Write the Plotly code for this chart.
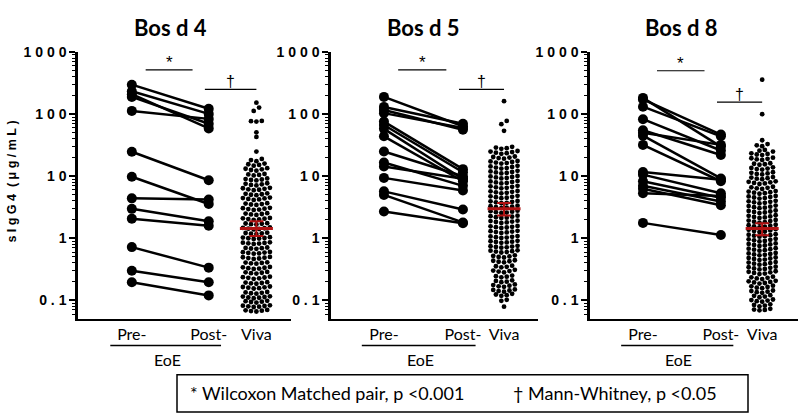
import numpy as np
import plotly.graph_objects as go

W, H = 800, 417

titles = ["Bos d 4", "Bos d 5", "Bos d 8"]
categories = ["Pre-", "Post-", "Viva"]

# ---- paired EoE values (ug/mL) ----
d4_pre = [299, 234, 210, 190, 113, 24.8, 9.8, 4.4, 2.98, 2.07, 0.72, 0.30, 0.195]
d4_post = [122, 101, 59, 70, 84, 8.6, 3.57, 4.2, 1.88, 1.59, 0.336, 0.195, 0.12]

d5_pre = [190, 131, 117, 104, 76, 67, 58, 44, 25, 16.6, 14.4, 9.4, 5.7, 5.0, 2.7]
d5_post = [64, 70, 56, 60, 13, 11.6, 9.0, 8.3, 10, 7.0, 9.1, 5.9, 2.9, 1.8, 1.75]

d8_pre = [183, 173, 132, 83, 55, 50, 45, 32, 11.7, 10.6, 8.3, 7.0, 6.3, 5.3, 1.77]
d8_post = [30, 47, 44, 26, 22, 32, 9.2, 8.3, 8.8, 5.3, 4.5, 3.9, 3.4, 4.8, 1.13]

# ---- Viva cohort values (ug/mL) ----
d4_viva = [
    0.066, 0.067, 0.068, 0.069, 0.07,
    0.078, 0.079, 0.08, 0.081, 0.082, 0.083,
    0.092, 0.094, 0.095, 0.097, 0.098,
    0.108, 0.11, 0.111, 0.113, 0.115, 0.116,
    0.128, 0.13, 0.132, 0.134, 0.136,
    0.155, 0.157, 0.16, 0.162, 0.164, 0.167,
    0.185, 0.188, 0.19, 0.193, 0.196,
    0.222, 0.226, 0.23, 0.233, 0.236, 0.24,
    0.27, 0.274, 0.278, 0.282, 0.287,
    0.32, 0.325, 0.33, 0.335, 0.34, 0.345,
    0.39, 0.395, 0.40, 0.405, 0.41,
    0.465, 0.472, 0.48, 0.487, 0.494, 0.50,
    0.565, 0.572, 0.58, 0.588, 0.596, 0.603,
    0.675, 0.684, 0.693, 0.70, 0.71,
    0.81, 0.82, 0.83, 0.84, 0.85, 0.86,
    0.975, 0.99, 1.0, 1.01, 1.025, 1.04,
    1.17, 1.185, 1.2, 1.215, 1.23,
    1.39, 1.41, 1.43, 1.45, 1.47, 1.49,
    1.67, 1.69, 1.71, 1.73, 1.75,
    1.98, 2.01, 2.04, 2.07, 2.1, 2.13,
    2.38, 2.42, 2.46, 2.5, 2.54,
    2.86, 2.9, 2.95, 3.0, 3.05, 3.1,
    3.45, 3.5, 3.56, 3.62, 3.68,
    4.15, 4.22, 4.3, 4.38, 4.45, 4.52,
    4.95, 5.03, 5.12, 5.2, 5.3,
    5.95, 6.05, 6.15, 6.27, 6.4, 6.5,
    7.1, 7.25, 7.4, 7.55, 7.7,
    8.55, 8.7, 8.85, 9.0, 9.2,
    10.3, 10.5, 10.7, 10.9,
    12.3, 12.6, 12.9, 13.2, 13.5,
    14.8, 15.2, 15.6, 16.0,
    17.5, 18.2, 19.0,
    25, 43, 51, 76, 77, 78, 113, 128, 153,
]

d5_viva = [
    0.079,
    0.098, 0.102,
    0.118, 0.121, 0.124, 0.127,
    0.138, 0.141, 0.144, 0.147, 0.15,
    0.165, 0.168, 0.172, 0.176, 0.18,
    0.196, 0.2, 0.205, 0.21,
    0.235, 0.24, 0.245, 0.25,
    0.283, 0.29, 0.296, 0.302, 0.31,
    0.34, 0.347, 0.354, 0.362,
    0.41, 0.418, 0.426, 0.434, 0.442,
    0.49, 0.5, 0.51, 0.52, 0.53,
    0.59, 0.6, 0.61, 0.62, 0.63, 0.64,
    0.705, 0.715, 0.725, 0.735, 0.745, 0.755,
    0.845, 0.857, 0.87, 0.882, 0.895, 0.908,
    1.01, 1.025, 1.04, 1.055, 1.07, 1.085,
    1.22, 1.24, 1.26, 1.28, 1.3, 1.32,
    1.47, 1.49, 1.51, 1.53, 1.56, 1.58,
    1.77, 1.8, 1.83, 1.86, 1.89, 1.92,
    2.12, 2.15, 2.19, 2.23, 2.27, 2.31,
    2.55, 2.59, 2.63, 2.68, 2.73, 2.78,
    3.06, 3.11, 3.16, 3.22, 3.28, 3.34,
    3.67, 3.73, 3.8, 3.87, 3.94, 4.0,
    4.42, 4.5, 4.58, 4.66, 4.75, 4.84,
    5.3, 5.4, 5.5, 5.6, 5.7, 5.8,
    6.38, 6.5, 6.62, 6.75, 6.88, 7.0,
    7.66, 7.8, 7.95, 8.1, 8.25, 8.4,
    9.2, 9.38, 9.56, 9.75, 9.94, 10.1,
    11.1, 11.3, 11.5, 11.7, 11.95, 12.2,
    13.3, 13.55, 13.8, 14.1, 14.4, 14.7,
    16.0, 16.3, 16.6, 16.95, 17.3, 17.6,
    19.2, 19.6, 20.0, 20.4, 20.8,
    23.0, 23.5, 24.0, 24.5, 25.0, 25.5,
    27.6, 28.3, 29.0, 29.8,
    54, 69, 78, 162,
]

d8_viva = [
    0.069, 0.07, 0.071, 0.073,
    0.08, 0.082, 0.084, 0.086,
    0.095, 0.097, 0.099, 0.101, 0.103,
    0.112, 0.115, 0.118, 0.121,
    0.132, 0.135, 0.138, 0.141, 0.144,
    0.157, 0.16, 0.164, 0.168, 0.172,
    0.186, 0.19, 0.194, 0.198, 0.202, 0.206,
    0.22, 0.225, 0.23, 0.235, 0.24,
    0.265, 0.27, 0.276, 0.282, 0.288, 0.294,
    0.315, 0.32, 0.327, 0.334, 0.341, 0.348,
    0.375, 0.382, 0.39, 0.398, 0.406, 0.414,
    0.445, 0.454, 0.463, 0.472, 0.481, 0.49,
    0.53, 0.54, 0.55, 0.56, 0.57, 0.58,
    0.63, 0.642, 0.655, 0.668, 0.68, 0.693,
    0.75, 0.765, 0.78, 0.795, 0.81, 0.825,
    0.89, 0.907, 0.925, 0.943, 0.961, 0.98,
    1.06, 1.08, 1.1, 1.12, 1.14, 1.16,
    1.26, 1.28, 1.31, 1.34, 1.37, 1.4,
    1.5, 1.53, 1.56, 1.59, 1.62, 1.65,
    1.78, 1.82, 1.85, 1.89, 1.93, 1.97,
    2.13, 2.17, 2.21, 2.25, 2.3, 2.35,
    2.55, 2.6, 2.65, 2.7, 2.75, 2.8,
    3.05, 3.11, 3.17, 3.23, 3.3, 3.37,
    3.65, 3.72, 3.79, 3.86, 3.94, 4.02,
    4.36, 4.45, 4.54, 4.63, 4.72, 4.81,
    5.22, 5.32, 5.43, 5.54, 5.65, 5.76,
    6.25, 6.38, 6.5, 6.63, 6.77,
    7.5, 7.65, 7.8, 7.96, 8.12, 8.28,
    8.95, 9.13, 9.31, 9.5, 9.7,
    10.7, 10.9, 11.1, 11.35, 11.6,
    12.8, 13.05, 13.3, 13.6, 13.9,
    15.3, 15.6, 15.9, 16.2,
    18.3, 18.7, 19.1, 19.5, 19.9,
    21.9, 22.4, 22.9, 23.4,
    25.0, 25.8, 26.5,
    30.5, 31.5, 33,
    38, 100, 360,
]

# geometric mean with 95% CI for the Viva cohort
viva_center = [1.44, 2.98, 1.44]
viva_low = [1.09, 2.33, 1.12]
viva_high = [1.88, 3.70, 1.75]

pre_sets = [d4_pre, d5_pre, d8_pre]
post_sets = [d4_post, d5_post, d8_post]
viva_sets = [d4_viva, d5_viva, d8_viva]

# ---- layout geometry (pixels) ----
dom_px = [(78, 291), (331, 538), (590, 798)]
x_ranges = [(0.30, 3.07), (0.33, 2.95), (0.32, 2.99)]
viva_x = [2.62, 2.52, 2.53]
top_px, bot_px = 45, 317
RED = "#b01212"
TXT = "Lato, 'Open Sans', sans-serif"
NUM = "'Liberation Sans', Arial, sans-serif"
NB = "\u00a0"


def py(p):
    return 1 - p / H


def swarm_offsets(vals, thresh=0.06):
    logs = np.log10(np.asarray(vals, float))
    order = np.argsort(logs, kind="stable")
    rows, cur, start = [], [], None
    for i in order:
        if start is None or logs[i] - start > thresh:
            if cur:
                rows.append(cur)
            cur, start = [i], logs[i]
        else:
            cur.append(i)
    if cur:
        rows.append(cur)
    off = np.zeros(len(vals))
    for row in rows:
        n = len(row)
        pos = sorted([k - (n - 1) / 2 for k in range(n)], key=lambda p: (abs(p), p))
        for idx, p in zip(row, pos):
            off[idx] = p
    return off


fig = go.Figure()
shapes, annos = [], []

for k in range(3):
    xa = "x" if k == 0 else f"x{k+1}"
    ya = "y" if k == 0 else f"y{k+1}"
    x0p, x1p = dom_px[k]
    r0, r1 = x_ranges[k]
    unit = (x1p - x0p) / (r1 - r0)
    vx = viva_x[k]

    # paired lines
    xs, ys = [], []
    for a, b in zip(pre_sets[k], post_sets[k]):
        xs += [1, 2, None]
        ys += [a, b, None]
    fig.add_trace(go.Scatter(
        x=xs, y=ys, mode="lines+markers", xaxis=xa, yaxis=ya,
        line=dict(color="black", width=2.5),
        marker=dict(color="black", size=10), showlegend=False, hoverinfo="skip"))

    # swarm
    vals = viva_sets[k]
    off = swarm_offsets(vals)
    fig.add_trace(go.Scatter(
        x=vx + off * (5.4 / unit), y=vals, mode="markers", xaxis=xa, yaxis=ya,
        marker=dict(color="black", size=4.8), showlegend=False, hoverinfo="skip"))

    # geometric mean + CI
    hw = 16.5 / unit
    fig.add_trace(go.Scatter(
        x=[vx - hw, vx + hw], y=[viva_center[k]] * 2, mode="lines", xaxis=xa, yaxis=ya,
        line=dict(color=RED, width=3), showlegend=False, hoverinfo="skip"))
    fig.add_trace(go.Scatter(
        x=[vx], y=[viva_center[k]], mode="markers", xaxis=xa, yaxis=ya,
        marker=dict(size=1, color=RED),
        error_y=dict(type="data", symmetric=False,
                     array=[viva_high[k] - viva_center[k]],
                     arrayminus=[viva_center[k] - viva_low[k]],
                     color=RED, thickness=2, width=7),
        showlegend=False, hoverinfo="skip"))

    xkey = "xaxis" if k == 0 else f"xaxis{k+1}"
    ykey = "yaxis" if k == 0 else f"yaxis{k+1}"
    fig.layout[xkey] = dict(
        domain=[x0p / W, x1p / W], range=[r0, r1], anchor=ya,
        showline=True, linecolor="black", linewidth=2, showgrid=False, zeroline=False,
        tickmode="array", tickvals=[1, 2, vx], ticktext=categories,
        ticks="", tickfont=dict(family=TXT, size=16, color="black"))
    minor_vals = [m * 10.0 ** e for e in range(-2, 3) for m in range(2, 10)
                  if 10 ** -1.3 <= m * 10.0 ** e <= 1000]
    fig.layout[ykey] = dict(
        domain=[py(bot_px), py(top_px)], type="log", range=[-1.3, 3], anchor=xa,
        showline=True, linecolor="black", linewidth=2.5, showgrid=False, zeroline=False,
        tickmode="array", tickvals=[0.1, 1, 10, 100, 1000],
        ticktext=["0" + NB + "." + NB + "1", "1", "1" + NB + "0",
                  "1" + NB + "0" + NB + "0", "1" + NB + "0" + NB + "0" + NB + "0"],
        ticks="outside", ticklen=6, tickwidth=2, tickcolor="black",
        minor=dict(tickmode="array", tickvals=minor_vals, ticks="outside",
                   ticklen=3, tickwidth=1, tickcolor="black", showgrid=False),
        tickfont=dict(family=NUM, size=14, color="black", weight="bold"))

    # significance bars
    star_y = 63 if k < 2 else 64
    dag_y = 83 if k < 2 else 96
    shapes.append(dict(type="line", xref=xa, yref="paper", x0=1.18, x1=1.79,
                       y0=py(star_y), y1=py(star_y), line=dict(color="black", width=1.2)))
    shapes.append(dict(type="line", xref=xa, yref="paper", x0=1.95, x1=vx,
                       y0=py(dag_y), y1=py(dag_y), line=dict(color="black", width=1.2)))
    annos.append(dict(x=1.485, y=py(star_y - 7), xref=xa, yref="paper", text="*",
                      showarrow=False, xanchor="center", yanchor="middle",
                      font=dict(family=NUM, size=17, color="black")))
    annos.append(dict(x=(1.95 + vx) / 2, y=py(dag_y - 8), xref=xa, yref="paper", text="†",
                      showarrow=False, xanchor="center", yanchor="middle",
                      font=dict(family=NUM, size=16, color="black")))

    # EoE grouping line and label
    shapes.append(dict(type="line", xref=xa, yref="paper", x0=0.72, x1=2.16,
                       y0=py(344), y1=py(344), line=dict(color="black", width=1.5)))
    annos.append(dict(x=1.46, y=py(358), xref=xa, yref="paper", text="EoE",
                      showarrow=False, xanchor="center", yanchor="middle",
                      font=dict(family=TXT, size=16, color="black")))

    # panel title
    annos.append(dict(x=1.5, y=py(20), xref=xa, yref="paper", text=titles[k],
                      showarrow=False, xanchor="center", yanchor="middle",
                      font=dict(family=TXT, size=22, color="black", weight="bold")))

# y-axis title
annos.append(dict(x=12 / W, y=py(177), xref="paper", yref="paper", textangle=-90,
                  xanchor="center", yanchor="middle",
                  text=NB.join("sIgG4") + NB * 2 + NB.join("(μg/mL)"), showarrow=False,
                  font=dict(family=NUM, size=12.5, color="black", weight="bold")))

# footnote box
shapes.append(dict(type="rect", xref="paper", yref="paper", x0=177 / W, x1=748 / W,
                   y0=py(412), y1=py(374), line=dict(color="black", width=1.5)))
annos.append(dict(x=188 / W, y=py(393), xref="paper", yref="paper",
                  xanchor="left", yanchor="middle",
                  text="* Wilcoxon Matched pair, p <0.001", showarrow=False,
                  font=dict(family=TXT, size=18, color="black")))
annos.append(dict(x=511 / W, y=py(393), xref="paper", yref="paper",
                  xanchor="left", yanchor="middle",
                  text="† Mann-Whitney, p <0.05", showarrow=False,
                  font=dict(family=TXT, size=18, color="black")))

fig.update_layout(
    width=W, height=H, margin=dict(l=0, r=0, t=0, b=0),
    paper_bgcolor="white", plot_bgcolor="white",
    shapes=shapes, annotations=annos, showlegend=False)

fig.write_html("out.html", config={"displayModeBar": False},
               post_script="document.body.style.margin='0';document.body.style.overflow='hidden';")
